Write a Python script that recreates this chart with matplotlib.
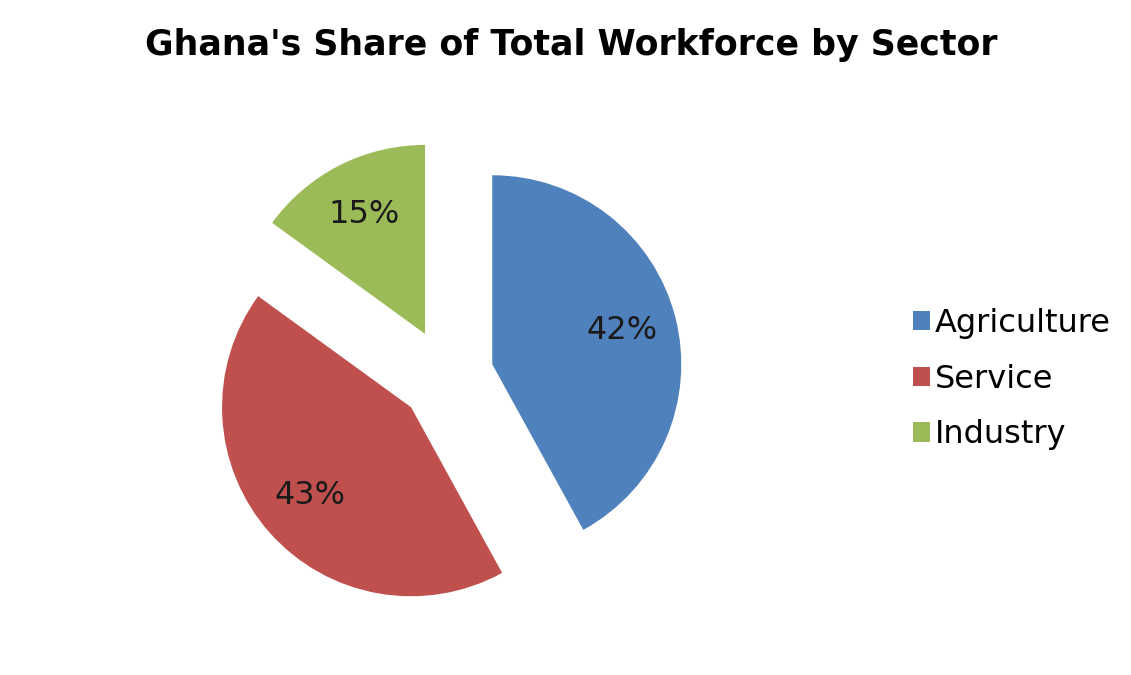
import numpy as np
import matplotlib
matplotlib.use('Agg')
import matplotlib.pyplot as plt

sectors = ['Agriculture', 'Service', 'Industry']
shares = [42, 43, 15]
colors = ['#4F81BD', '#C0504D', '#9BBB59']

W, H = 1131, 675
cx, cy = 446.5, 376.0   # pie centre in pixels from top-left
r_px = 189.0


def main():
    fig = plt.figure(figsize=(W / 100, H / 100), dpi=100)
    fig.patch.set_facecolor('white')
    ax = fig.add_axes([0, 0, 1, 1])

    wedges, texts, autotexts = ax.pie(
        shares, colors=colors, startangle=90, counterclock=False,
        explode=[0.25, 0.25, 0.25], radius=1.0,
        autopct='%1.0f%%', pctdistance=0.71,
        textprops={'fontsize': 23, 'color': '#1a1a1a'},
        wedgeprops={'linewidth': 0})

    # pie() resets the limits, so place the pie afterwards
    ax.set_aspect('equal')
    ax.set_xlim(-cx / r_px, (W - cx) / r_px)
    ax.set_ylim(-(H - cy) / r_px, cy / r_px)
    ax.axis('off')

    fig.text(571 / W, 1 - 45 / H, "Ghana's Share of Total Workforce by Sector",
             ha='center', va='center', fontsize=25, fontweight='bold')

    fig.legend(wedges, sectors, loc='center left',
               bbox_to_anchor=(884 / W, 1 - 379 / H),
               frameon=False, fontsize=23, handlelength=0.55,
               handleheight=0.55, handletextpad=0.15, labelspacing=0.78)

    plt.savefig('out.png', dpi=100)


if __name__ == '__main__':
    main()
